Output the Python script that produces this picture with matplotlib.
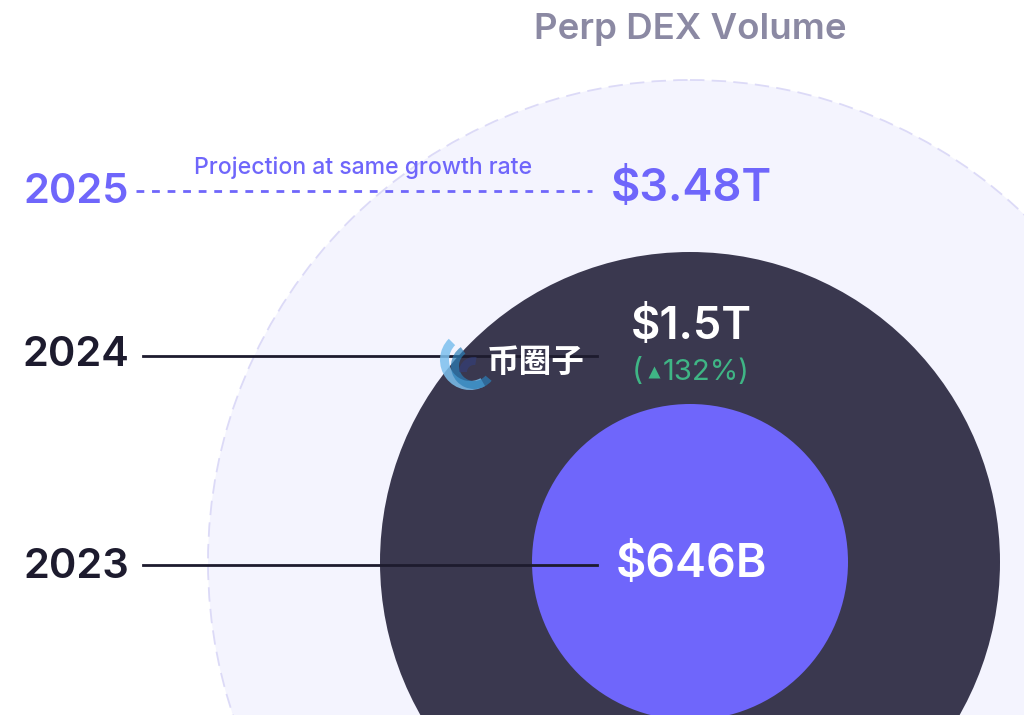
import matplotlib
matplotlib.use("Agg")
import matplotlib.pyplot as plt
from matplotlib.patches import Circle, Rectangle, Wedge

plt.rcParams['font.family'] = ['Inter', 'DejaVu Sans']

title = "Perp DEX Volume"
years = ["2025", "2024", "2023"]
year_y = [192, 355, 567]
line_y = [191, 356, 565]
value_labels = ["$3.48T", "$1.5T", "$646B"]
value_y = [189, 327, 565]
radii = [482, 310, 158]
note = "Projection at same growth rate"
growth = "132%)"

PURPLE = "#6f66fb"
DARK = "#3a384f"
INK = "#1d1b2e"
PALE = "#f4f4fe"
GREEN = "#3fb585"

fig = plt.figure(figsize=(10.24, 7.18), dpi=100)
ax = fig.add_axes([0, 0, 1, 1])
ax.set_xlim(0, 1024)
ax.set_ylim(718, 0)
ax.axis("off")

cx, cy = 690, 562

# circles, biggest first
ax.add_patch(Circle((cx, cy), radii[0], fc=PALE, ec="#dcdaf7", lw=1.3, ls=(0, (8, 4)), zorder=1))
ax.add_patch(Circle((cx, cy), radii[1], fc=DARK, ec="none", zorder=2))
ax.add_patch(Circle((cx, cy), radii[2], fc=PURPLE, ec="none", zorder=3))

# image stops a little above the bottom edge
ax.add_patch(Rectangle((0, 715), 1024, 3, fc="white", ec="none", zorder=4))

# leader lines
ax.plot([136, 592], [line_y[0], line_y[0]], color=PURPLE, lw=2, ls=(0, (2.8, 2.8)), zorder=5)
ax.plot([143, 597], [line_y[1], line_y[1]], color=INK, lw=2, zorder=5)
ax.plot([143, 597], [line_y[2], line_y[2]], color=INK, lw=2, zorder=5)

# year labels
ax.text(129, year_y[0], years[0], color=PURPLE, fontsize=30, fontweight=600, ha="right", va="center", zorder=6)
ax.text(129, year_y[1], years[1], color=INK, fontsize=30, fontweight=600, ha="right", va="center", zorder=6)
ax.text(129, year_y[2], years[2], color=INK, fontsize=30, fontweight=600, ha="right", va="center", zorder=6)

# values
ax.text(691, value_y[0], value_labels[0], color=PURPLE, fontsize=32.5, fontweight=600, ha="center", va="center", zorder=6)
ax.text(691, value_y[1], value_labels[1], color="white", fontsize=32.5, fontweight=600, ha="center", va="center", zorder=6)
ax.text(691, value_y[2], value_labels[2], color="white", fontsize=33.5, fontweight=600, ha="center", va="center", zorder=6)

ax.text(690, 30, title, color="#8b89a3", fontsize=26.4, fontweight=600, ha="center", va="center", zorder=6)
ax.text(363, 168, note, color=PURPLE, fontsize=16.6, fontweight=500, ha="center", va="center", zorder=6)

# growth figure
ax.text(632, 372, "(", color=GREEN, fontsize=22, fontweight=400, ha="left", va="center", zorder=6)
ax.plot([654], [372], marker="^", ms=8, color=GREEN, mec="none", zorder=6)
ax.text(663, 372, growth, color=GREEN, fontsize=21, fontweight=400, ha="left", va="center", zorder=6)

# watermark
ax.add_patch(Wedge((470, 360), 30, 60, 225, width=9, fc="#7cc0ee", ec="none", alpha=0.85, zorder=7))
ax.add_patch(Wedge((474, 366), 23, 40, 235, width=8, fc="#2b7fb8", ec="none", alpha=0.7, zorder=7))
ax.add_patch(Wedge((474, 372), 15, 180, 280, width=8, fc="#33407f", ec="none", alpha=0.6, zorder=7))
ax.text(536, 362, "币圈子", color="white", fontsize=23.5, fontweight="black", ha="center", va="center",
        family=['Noto Sans CJK SC', 'DejaVu Sans'], zorder=8)

fig.savefig("out.png", dpi=100)
